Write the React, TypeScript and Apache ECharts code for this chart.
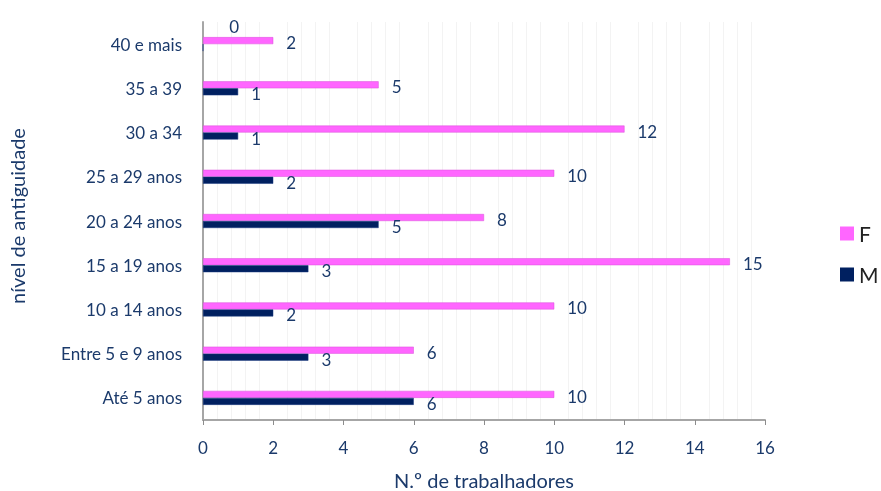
import React, { useEffect, useRef } from "react";
import * as echarts from "echarts";

// Seniority brackets, bottom to top
const categories = [
  "Até 5 anos",
  "Entre 5 e 9 anos",
  "10 a 14 anos",
  "15 a 19 anos",
  "20 a 24 anos",
  "25 a 29 anos",
  "30 a 34",
  "35 a 39",
  "40 e mais",
];
const femaleCounts = [10, 6, 10, 15, 8, 10, 12, 5, 2];
const maleCounts = [6, 3, 2, 3, 5, 2, 1, 1, 0];
const xTicks = { min: 0, max: 16, interval: 2 };

const TEXT = "#1B3A6B";
const FONT = "Lato, 'Open Sans', sans-serif";
const FS = 17;
const TITLE_FS = 20;

export default function App() {
  const ref = useRef<HTMLDivElement>(null);

  useEffect(() => {
    if (!ref.current) return;
    const chart = echarts.init(ref.current, null, { renderer: "svg" });

    const labelStyle = {
      show: true,
      position: "right" as const,
      distance: 13,
      color: TEXT,
      fontSize: FS,
      fontFamily: FONT,
    };

    chart.setOption({
      animation: false,
      textStyle: { fontFamily: FONT },
      grid: {
        left: 203,
        right: 116,
        top: 22,
        bottom: 71,
        containLabel: false,
        outerBoundsMode: "none",
      },
      legend: {
        data: ["F", "M"],
        orient: "vertical",
        left: 835,
        top: 218,
        itemWidth: 14,
        itemHeight: 14,
        itemGap: 20,
        icon: "rect",
        itemStyle: { borderWidth: 0 },
        textStyle: { fontSize: 21, color: "#222", fontFamily: FONT },
      },
      xAxis: {
        type: "value",
        min: xTicks.min,
        max: xTicks.max,
        interval: xTicks.interval,
        name: "N.º de trabalhadores",
        nameLocation: "middle",
        nameGap: 50,
        nameTextStyle: { color: TEXT, fontSize: TITLE_FS, fontFamily: FONT },
        axisLine: { show: true, lineStyle: { color: "#A6A6A6", width: 2 } },
        axisTick: { show: true, length: 5, lineStyle: { color: "#8C8C8C" } },
        axisLabel: { color: TEXT, fontSize: FS, margin: 19, fontFamily: FONT },
        splitLine: { show: false },
        minorTick: { show: false, splitNumber: 5 },
        minorSplitLine: { show: true, lineStyle: { color: "#F3F3F3", width: 1 } },
      },
      yAxis: {
        type: "category",
        data: categories,
        name: "nível de antiguidade",
        nameLocation: "middle",
        nameGap: 176,
        nameTextStyle: {
          color: TEXT,
          fontSize: TITLE_FS,
          fontFamily: FONT,
          padding: [0, 0, 0, 10],
        },
        axisLine: { show: true, lineStyle: { color: "#A6A6A6", width: 2 } },
        axisTick: { show: false },
        axisLabel: { color: TEXT, fontSize: FS, margin: 21, fontFamily: FONT },
      },
      series: [
        {
          name: "F",
          type: "bar",
          data: femaleCounts,
          barWidth: 7,
          barGap: "0%",
          itemStyle: { color: "#FF66FF", borderColor: "#D94FD9", borderWidth: 0.5 },
          label: { ...labelStyle, offset: [0, 2] },
        },
        {
          name: "M",
          type: "bar",
          data: maleCounts.map((v) =>
            v === 0 ? { value: v, label: { offset: [13, -21] } } : v
          ),
          barWidth: 7,
          barGap: "0%",
          itemStyle: { color: "#002060", borderColor: "#1A3A80", borderWidth: 0.5 },
          label: { ...labelStyle, offset: [0, 2] },
        },
      ],
    });

    return () => chart.dispose();
  }, []);

  return (
    <div
      ref={ref}
      style={{ position: "fixed", left: 0, top: 0, width: 881, height: 491 }}
    />
  );
}
